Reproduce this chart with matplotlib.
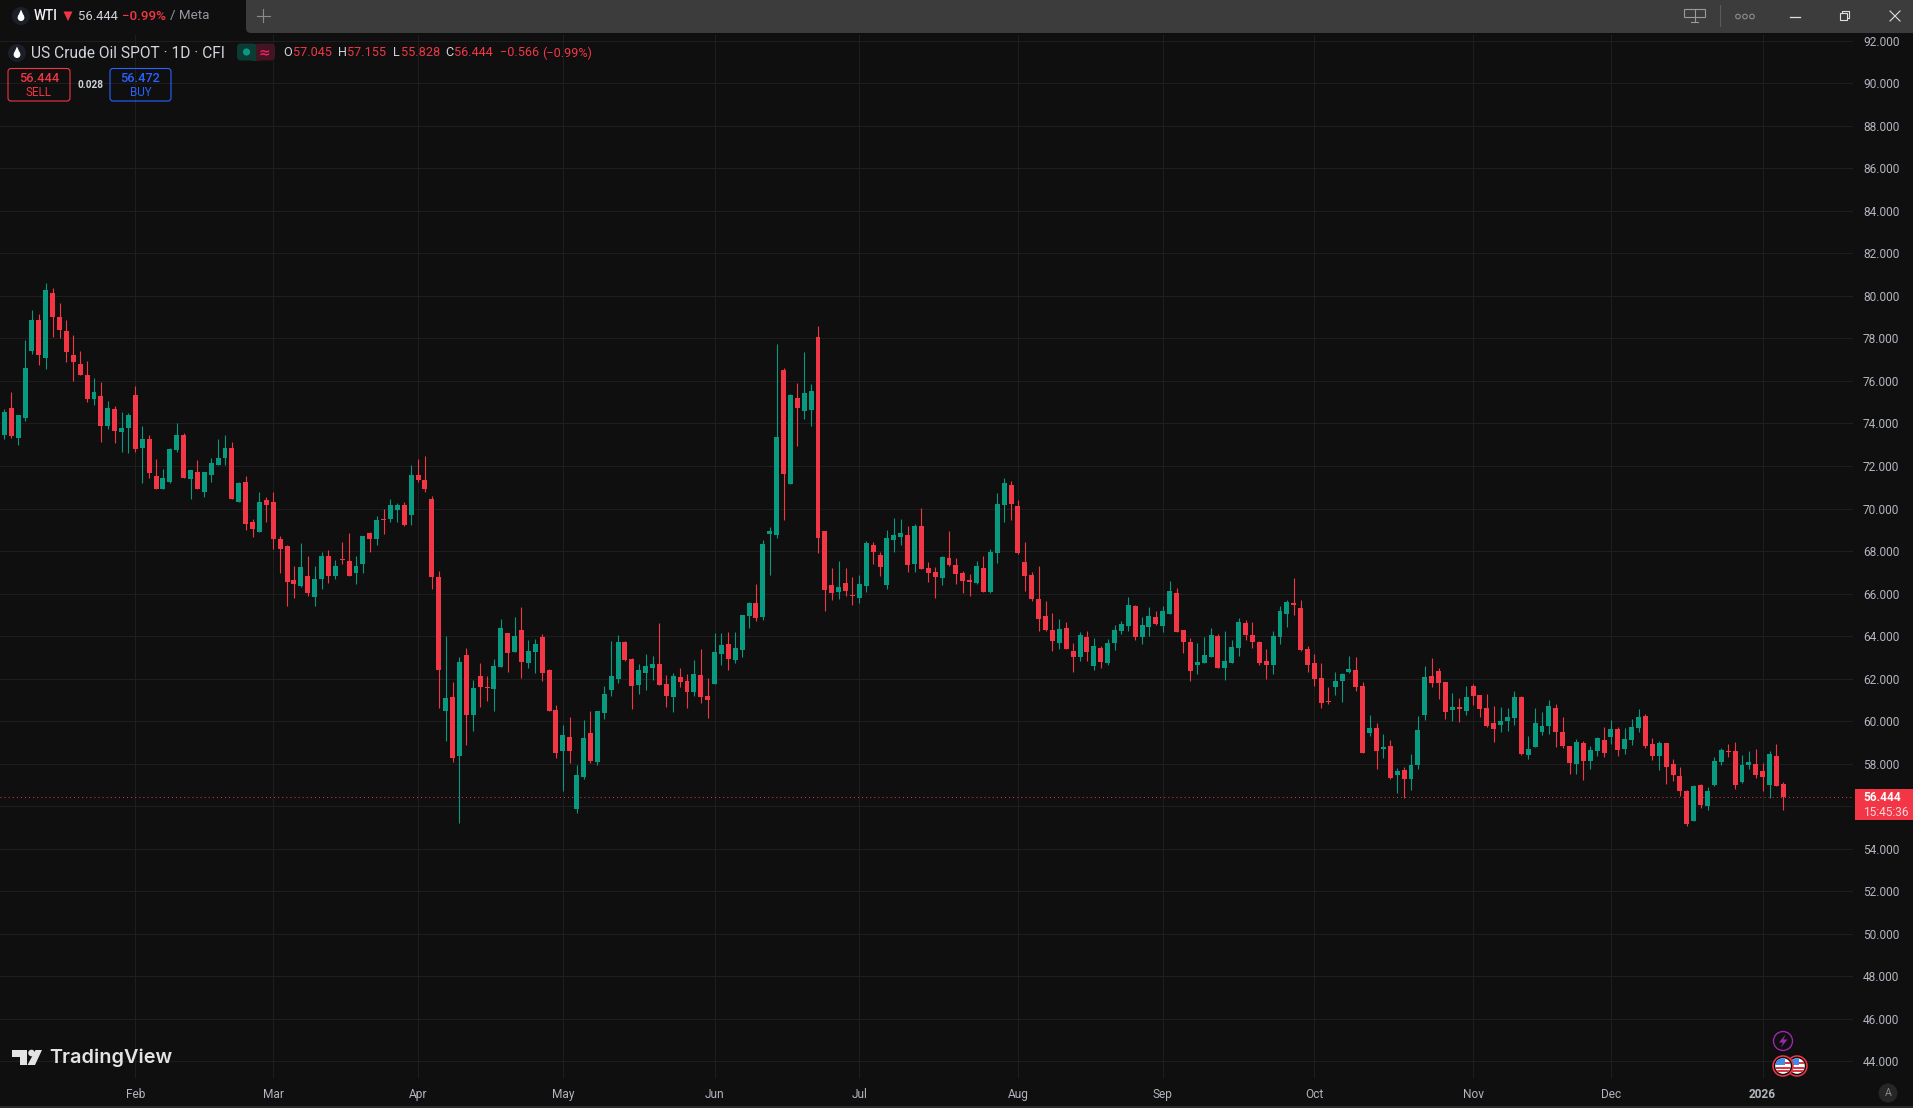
import matplotlib
matplotlib.use("Agg")
import matplotlib.pyplot as plt
from matplotlib.patches import Rectangle, Circle, FancyBboxPatch, Polygon

opens = [73.48,74.71,73.34,74.28,77.43,78.89,77.10,80.16,79.03,78.37,
77.24,76.82,76.26,75.13,75.27,73.86,74.66,73.62,73.77,75.36,
72.87,73.25,71.51,70.90,71.23,72.73,73.44,71.41,71.74,70.76,
71.60,72.03,72.40,72.87,70.33,71.23,69.39,68.92,70.38,70.29,
68.55,68.22,66.62,66.38,66.85,65.82,66.67,67.79,66.85,67.61,
67.51,66.95,67.37,68.83,68.59,69.49,69.53,69.91,70.15,69.72,
71.60,71.32,70.43,66.77,60.47,61.13,58.35,63.10,60.28,62.12,
61.60,61.50,62.54,64.14,63.24,64.28,62.73,63.24,63.95,62.40,
60.52,58.59,59.25,55.86,57.37,59.44,58.07,60.38,61.46,61.97,
63.71,62.92,61.69,62.26,62.49,62.68,61.74,61.13,62.07,61.88,
61.36,62.16,61.18,61.74,63.15,63.62,62.87,63.34,64.94,65.55,
64.89,68.79,68.75,76.51,71.15,75.19,74.58,74.63,78.06,68.94,
66.40,66.07,66.50,65.93,65.79,66.36,68.28,67.81,66.40,68.52,
68.66,68.75,67.39,69.18,67.20,67.01,66.73,67.67,67.34,66.97,
66.64,66.50,67.20,66.07,67.91,70.16,71.10,70.12,67.48,66.87,
65.74,64.94,64.29,63.68,64.38,63.30,63.02,63.96,62.59,63.44,
62.74,63.68,64.24,64.47,65.41,63.96,64.43,64.90,64.47,65.04,
66.03,64.30,63.73,62.65,62.75,63.03,64.02,62.51,62.75,63.45,
64.63,64.06,63.73,62.84,62.65,63.97,65.05,65.57,65.33,63.41,
62.75,62.04,60.96,61.62,61.90,62.32,62.42,61.67,59.46,59.69,
58.70,58.85,57.48,57.72,57.29,57.95,60.30,62.14,62.37,61.85,
60.54,60.68,60.49,61.67,61.24,60.63,59.93,59.83,60.02,60.16,
61.15,58.42,58.80,59.50,59.79,60.61,59.49,58.83,57.99,58.97,
58.13,58.60,59.11,59.25,59.63,58.69,59.11,59.67,60.24,58.92,
58.36,58.97,57.99,57.42,56.72,55.31,57.00,56.02,57.00,58.08,
58.60,58.60,57.14,57.94,57.99,57.66,57.00,58.36,57.045]

highs = [74.66,75.46,74.42,77.95,79.36,79.17,80.63,80.39,79.69,78.89,
78.18,77.43,76.92,76.12,75.93,75.08,74.80,74.52,74.47,75.74,
73.86,73.48,72.31,71.84,72.87,74.00,73.53,71.79,72.26,71.74,
72.36,73.25,73.48,73.11,71.23,71.51,69.53,70.76,70.52,70.80,
68.73,68.27,67.28,68.36,67.75,67.28,67.98,68.03,67.56,68.45,
68.83,67.75,68.69,68.92,69.63,69.96,70.47,70.24,70.33,72.07,
72.31,72.45,70.57,67.05,64.00,61.83,63.01,63.43,61.93,62.73,
62.12,62.92,64.80,64.14,64.89,65.36,63.81,63.86,64.09,62.44,
60.75,59.81,60.19,57.93,60.05,60.47,60.47,61.65,63.76,64.04,
63.76,62.96,62.68,63.15,63.06,64.61,62.16,62.26,62.49,62.21,
62.87,63.39,62.02,64.14,64.14,64.18,64.18,64.98,65.59,66.44,
68.51,69.12,77.73,76.60,75.38,75.90,77.36,75.85,78.58,68.94,
67.20,67.53,67.20,66.78,66.87,68.47,68.42,67.95,68.99,69.55,
69.50,69.18,69.27,70.02,67.48,67.25,67.77,68.94,67.67,67.06,
66.92,67.53,67.77,68.09,70.73,71.43,71.29,70.40,68.42,67.01,
67.30,65.65,65.09,64.80,64.66,63.68,64.19,64.24,63.91,63.53,
63.86,64.52,64.71,65.84,65.46,64.90,65.37,65.18,65.42,66.59,
66.26,64.30,63.92,63.69,63.97,64.39,64.11,64.25,63.83,64.86,
64.77,64.67,63.78,63.41,64.25,65.43,65.71,66.74,65.71,63.55,
63.17,62.75,61.62,62.32,62.28,63.08,63.03,61.85,60.30,59.93,
59.41,59.13,57.81,57.86,58.47,60.26,62.61,62.98,62.51,61.85,
61.34,61.10,61.67,61.76,61.24,61.29,60.73,60.68,60.63,61.43,
61.20,59.32,60.63,60.44,61.01,60.80,60.19,58.83,59.16,59.06,
58.83,59.25,59.72,60.05,59.72,59.67,60.10,60.56,60.33,59.20,
59.06,58.97,58.22,57.85,56.77,57.00,57.05,56.91,58.31,58.74,
58.92,59.02,58.41,58.60,58.69,58.03,58.60,58.92,57.155]

lows = [73.25,73.30,72.97,74.14,77.29,76.73,76.54,78.09,78.00,76.87,
76.02,76.26,75.03,74.89,73.15,73.72,73.06,72.68,72.59,72.64,
71.18,71.46,70.90,70.90,71.18,72.64,71.46,70.47,70.90,70.52,
71.27,72.03,72.07,70.47,70.29,68.97,68.64,68.88,69.39,68.12,
66.95,65.40,65.77,66.29,65.91,65.40,66.24,66.48,66.67,67.37,
66.81,66.43,66.95,67.98,68.27,68.78,69.35,69.39,69.16,69.21,
71.23,70.80,66.20,60.61,59.06,58.07,55.21,58.87,59.53,60.66,
60.94,60.47,62.54,62.30,63.24,62.02,62.49,62.26,61.88,60.47,
58.26,56.71,58.03,55.68,57.27,58.03,57.93,60.09,61.18,61.79,
62.82,60.56,61.27,61.46,61.93,61.69,60.66,60.42,61.60,60.61,
61.18,60.85,60.14,61.74,62.63,62.40,62.73,63.01,64.37,64.70,
64.75,66.86,68.61,69.46,71.15,72.94,74.21,73.88,67.91,65.18,
65.70,65.74,65.89,65.46,65.56,66.07,67.39,66.83,66.21,67.95,
68.28,67.01,67.01,67.15,66.54,65.79,66.40,67.30,66.45,66.03,
65.89,66.45,66.07,66.03,67.44,69.36,69.46,67.86,66.12,65.65,
64.24,64.24,63.30,63.39,63.39,62.33,62.83,62.83,62.41,62.50,
62.64,63.35,64.10,64.24,63.82,63.63,64.00,64.52,64.19,65.04,
64.19,63.22,61.90,62.23,62.75,63.03,62.51,61.95,62.75,63.08,
63.83,63.45,62.65,62.00,62.23,63.64,64.44,65.00,63.31,62.32,
61.67,60.63,60.82,61.24,60.91,62.28,61.43,58.52,59.32,57.76,
58.28,57.29,56.64,56.39,56.78,57.76,60.07,61.62,61.06,60.12,
60.02,59.97,60.30,60.77,60.21,59.74,59.03,59.50,59.55,59.83,
58.42,58.23,58.80,59.36,59.41,58.78,58.74,57.52,57.52,57.24,
57.75,58.36,58.31,58.92,58.36,58.45,58.88,59.49,58.74,58.17,
57.71,57.05,57.19,56.49,55.08,55.31,55.92,55.83,56.95,57.94,
58.31,56.81,57.10,57.75,57.33,56.72,56.41,56.95,55.828]

closes = [74.56,73.39,74.42,76.63,78.89,77.20,80.30,79.03,78.42,77.34,
76.87,76.26,75.13,75.46,73.86,74.71,73.67,73.81,74.42,72.82,
73.25,71.65,70.90,71.46,72.82,73.48,71.46,71.79,70.90,71.74,
72.12,72.40,72.87,70.47,71.18,69.25,69.02,70.33,70.15,68.55,
68.12,66.53,66.43,67.23,66.01,66.67,67.79,66.81,67.28,67.56,
66.81,67.32,68.69,68.59,69.44,69.44,70.15,70.15,69.21,71.60,
71.32,70.90,66.76,62.40,61.08,58.26,62.77,60.28,61.55,61.60,
61.55,62.59,64.37,63.20,64.00,62.77,63.29,63.62,62.26,60.47,
58.50,59.34,58.59,57.46,59.20,58.12,60.47,61.27,62.12,63.71,
62.87,61.65,62.40,62.59,62.68,61.69,61.18,62.12,61.83,61.36,
62.21,61.13,60.99,63.24,63.57,62.92,63.43,64.98,65.55,64.84,
68.32,68.93,73.36,71.62,75.33,74.72,75.43,75.52,68.61,66.17,
66.03,66.31,66.12,65.89,66.45,68.38,67.95,67.25,68.61,68.75,
68.85,67.34,69.18,67.15,66.97,66.78,67.72,67.34,66.92,66.59,
66.54,67.30,66.07,67.95,70.21,71.20,70.21,67.91,66.83,65.74,
64.80,64.29,63.77,64.33,63.39,63.02,64.05,63.25,63.53,62.78,
63.68,64.29,64.57,65.46,63.96,64.52,64.94,64.57,65.18,66.12,
64.19,63.73,62.37,62.79,63.12,64.06,62.51,62.84,63.50,64.67,
64.06,63.73,62.75,62.65,64.02,65.19,65.62,65.47,63.36,62.65,
62.00,60.87,60.91,61.90,62.23,62.47,61.62,58.52,59.69,58.61,
58.80,57.34,57.67,57.29,57.95,59.60,62.09,61.81,61.81,60.44,
60.68,60.59,61.15,61.20,60.59,59.79,59.65,60.02,60.21,61.15,
58.47,58.70,59.93,59.79,60.73,59.49,58.83,58.03,59.02,58.13,
58.64,59.20,58.50,59.63,58.64,59.16,59.72,60.19,58.83,58.36,
58.97,57.85,57.47,56.72,55.17,56.95,56.06,56.72,58.13,58.64,
58.55,57.00,57.94,58.08,57.47,57.38,58.45,56.95,56.444]

price_ticks = [92,90,88,86,84,82,80,78,76,74,72,70,68,66,64,62,60,58,56,54,52,50,48,46,44]
hidden_price_labels = [56]   # covered by the last-price badge in the reference
month_pos = [19,39,60,81,103,124,147,168,190,213,233,255]
month_labels = ["Feb","Mar","Apr","May","Jun","Jul","Aug","Sep","Oct","Nov","Dec","2026"]

BG = "#0F0F0F"; GRID = "#1E1E1E"; UP = "#089981"; DOWN = "#F23645"
AXTXT = "#B2B5BE"; LIGHT = "#D1D4DC"; BLUE = "#2962FF"; BAR = "#3C3C3C"
W, H = 1913, 1108
plt.rcParams["font.family"] = ["Roboto", "DejaVu Sans"]

fig = plt.figure(figsize=(W/100, H/100), dpi=100, facecolor=BG)

L_PX, R_PX, T_PX, B_PX = 0, 1853, 35, 1078
ax = fig.add_axes([L_PX/W, (H-B_PX)/H, (R_PX-L_PX)/W, (B_PX-T_PX)/H], facecolor=BG)
ax.set_xlim(-0.63, 268.1)
ax.set_ylim(43.22, 92.27)
for s in ax.spines.values():
    s.set_visible(False)
ax.yaxis.tick_right()
ax.set_yticks(price_ticks, ["" if p in hidden_price_labels else f"{p:.3f}" for p in price_ticks],
              va="center_baseline")
ax.set_xticks(month_pos, month_labels)
ax.tick_params(axis="y", length=0, pad=7.2, labelsize=8.6, labelcolor=AXTXT)
ax.tick_params(axis="x", length=0, pad=7.4, labelsize=8.6, labelcolor=AXTXT)
ax.get_xticklabels()[-1].set_fontweight("bold")
ax.grid(True, color=GRID, linewidth=0.72, zorder=0)
ax.set_axisbelow(True)

idx = list(range(len(opens)))
cols = [UP if c >= o else DOWN for o, c in zip(opens, closes)]
ax.vlines(idx, lows, highs, colors=cols, linewidth=0.8, zorder=2)
ax.bar(idx, [abs(c-o) for o, c in zip(opens, closes)],
       bottom=[min(o, c) for o, c in zip(opens, closes)],
       width=0.72, color=cols, linewidth=0, zorder=3)
ax.axhline(closes[-1], color=DOWN, linewidth=0.7, linestyle=(0, (1, 3.2)), zorder=1.5)

ov = fig.add_axes([0, 0, 1, 1], facecolor="none")
ov.set_xlim(0, W); ov.set_ylim(H, 0); ov.axis("off")

def T(x, y, s, color=LIGHT, size=9, ha="left", weight="normal", **kw):
    ov.text(x, y, s, color=color, fontsize=size, ha=ha, va="center", fontweight=weight, **kw)

def drop(cx, cy, r=3.4):
    ov.add_patch(Circle((cx, cy+1.6), r, fc="white", ec="none"))
    ov.add_patch(Polygon([(cx-r*0.85, cy), (cx+r*0.85, cy), (cx, cy-r*1.9)], fc="white", ec="none"))

# title bar
ov.add_patch(Rectangle((0, 0), W, 33, fc=BG, ec="none"))
ov.add_patch(FancyBboxPatch((246, -10), W, 43, boxstyle="round,pad=0,rounding_size=5", fc=BAR, ec="none"))
ov.add_patch(Circle((21, 16), 9, fc="#1B1F27", ec="none"))
drop(21, 16)
T(34, 16, "WTI", color="#F0F3FA", size=9.8, weight="medium")
ov.add_patch(Polygon([(63.5, 11.5), (72.5, 11.5), (68, 21)], fc=DOWN, ec="none"))
T(78, 16, "56.444", color=LIGHT, size=9.4)
T(122, 16, "\u22120.99%", color=DOWN, size=9.6, weight="medium")
T(170, 16, "/ Meta", color="#9598A1", size=9.6)
ov.plot([263, 263], [9, 22], color="#8A8A8A", lw=0.8)
ov.plot([256.5, 269.5], [15.5, 15.5], color="#8A8A8A", lw=0.8)

# window buttons
ov.add_patch(Rectangle((1684, 9), 21, 8, fc="none", ec="#9A9A9A", lw=0.8))
ov.plot([1694.5, 1694.5], [9, 22], color="#9A9A9A", lw=0.8)
ov.plot([1691, 1698], [22, 22], color="#9A9A9A", lw=0.8)
ov.plot([1719.5, 1719.5], [5, 26], color="#5A5A5A", lw=0.8)
for cx in (1738, 1745, 1752):
    ov.add_patch(Circle((cx, 16.5), 2.3, fc="none", ec="#8C8C8C", lw=0.8))
ov.plot([1790, 1800], [16.5, 16.5], color="#E0E0E0", lw=0.9)
ov.add_patch(Rectangle((1840, 13), 7, 7, fc=BAR, ec="#E0E0E0", lw=0.8))
ov.plot([1842, 1842, 1849, 1849, 1847], [13, 11, 11, 18, 18], color="#E0E0E0", lw=0.8)
ov.plot([1890, 1900], [11, 21], color="#E0E0E0", lw=0.8)
ov.plot([1890, 1900], [21, 11], color="#E0E0E0", lw=0.8)

# legend row
ov.add_patch(Circle((17, 53), 9, fc="#1B1F27", ec="none"))
drop(17, 53)
T(31, 53, "US Crude Oil SPOT \u00b7 1D \u00b7 CFI", color=LIGHT, size=11.2)
ov.add_patch(FancyBboxPatch((237, 43.5), 19, 17, boxstyle="round,pad=0,rounding_size=4", fc="#0D3A33", ec="none"))
ov.add_patch(FancyBboxPatch((256, 43.5), 19, 17, boxstyle="round,pad=0,rounding_size=4", fc="#421522", ec="none"))
ov.add_patch(Rectangle((252, 43.5), 4, 17, fc="#0D3A33", ec="none"))
ov.add_patch(Rectangle((256, 43.5), 4, 17, fc="#421522", ec="none"))
ov.add_patch(Circle((246.5, 52), 3.6, fc=UP, ec="none"))
T(264.5, 52, "\u2248", color="#E91E63", size=10, ha="center", family="DejaVu Sans", weight="bold")
for x, s, c in [(283, "O", LIGHT), (293, "57.045", DOWN), (338, "H", LIGHT), (347, "57.155", DOWN),
                (393, "L", LIGHT), (401, "55.828", DOWN), (445, "C", LIGHT), (454, "56.444", DOWN),
                (500, "\u22120.566", DOWN), (542, "(\u22120.99%)", DOWN)]:
    T(x, 53, s, color=c, size=9.1)

# sell / buy
ov.add_patch(FancyBboxPatch((8, 68.5), 62, 32.5, boxstyle="round,pad=0,rounding_size=3", fc="none", ec=DOWN, lw=0.8))
ov.add_patch(FancyBboxPatch((110, 68.5), 61, 32.5, boxstyle="round,pad=0,rounding_size=3", fc="none", ec=BLUE, lw=0.8))
T(39, 78, "56.444", color=DOWN, size=9.2, ha="center", weight="medium")
T(39, 92, "SELL", color=DOWN, size=8.4, ha="center")
T(90, 85, "0.028", color=LIGHT, size=7.2, ha="center", weight="bold")
T(140.5, 78, "56.472", color=BLUE, size=9.2, ha="center", weight="medium")
T(140.5, 92, "BUY", color=BLUE, size=8.4, ha="center")

# last price badge
ov.add_patch(Rectangle((1855, 789), 58, 31, fc=DOWN, ec="none"))
T(1863, 797.5, "56.444", color="white", size=8.6, weight="bold")
T(1863, 812, "15:45:36", color="#FBD5DA", size=8.6)

# event icons
ov.add_patch(Circle((1783, 1041), 9.5, fc=BG, ec="#9C27B0", lw=1.0))
ov.add_patch(Polygon([(1785.5, 1034.5), (1779, 1042.5), (1783, 1042.5), (1781, 1047.5), (1787.5, 1039.5), (1783.5, 1039.5)],
                     fc="#9C27B0", ec="none"))
for cx in (1797, 1783):
    ov.add_patch(Circle((cx, 1066), 10, fc=BG, ec=DOWN, lw=1.1))
    face = Circle((cx, 1066), 7.8, fc="white", ec="none")
    ov.add_patch(face)
    for yy in (1063, 1067.5, 1071):
        b = Rectangle((cx-8, yy-1), 16, 2.2, fc="#D93A47", ec="none")
        ov.add_patch(b); b.set_clip_path(face)
    c = Rectangle((cx-8, 1058), 10, 7, fc="#3F8CE8", ec="none")
    ov.add_patch(c); c.set_clip_path(face)

# auto button
ov.add_patch(Circle((1888, 1093), 9.5, fc="#262626", ec="none"))
T(1888, 1093.5, "A", color="#8A8A8A", size=7.6, ha="center")

# TradingView logo
ov.add_patch(Polygon([(12, 1050), (27, 1050), (27, 1065), (20, 1065), (20, 1056.5), (12, 1056.5)], fc="#E3E3E3", ec="none"))
ov.add_patch(Circle((31.5, 1053), 3.3, fc="#E3E3E3", ec="none"))
ov.add_patch(Polygon([(35.5, 1050), (42, 1050), (35, 1065), (27.5, 1065)], fc="#E3E3E3", ec="none"))
T(49, 1058, "TradingView", color="#E3E3E3", size=14.3, weight="semibold", family="Inter")

ov.add_patch(Rectangle((0, 1106), W, 2, fc="#2A2A2A", ec="none"))

fig.savefig("out.png", dpi=100, facecolor=BG)
